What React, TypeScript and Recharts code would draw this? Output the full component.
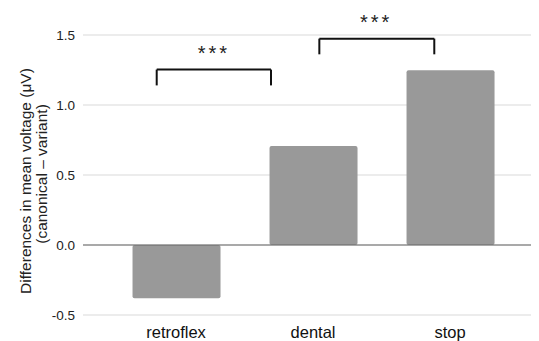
import { BarChart, Bar, XAxis, YAxis, CartesianGrid, ReferenceLine, ReferenceDot } from 'recharts';

// categories and mean differences (canonical - variant), in µV
const categories = ['retroflex', 'dental', 'stop'];
const differences = [-0.38, 0.707, 1.248];
const yTicks = [-0.5, 0, 0.5, 1, 1.5];

// significance brackets: [x start, x end, y top, y ends], x in category units
const brackets = [
  [-0.141, 0.693, 1.253, 1.14],
  [1.046, 1.885, 1.474, 1.362],
];
const starLabels = ['***', '***'];
const starPositions = [
  [0.277, 1.407],
  [1.46, 1.63],
];

const data = categories.map((name, i) => ({ x: i, name, value: differences[i] }));

const FONT = '"Liberation Sans", Arial, Helvetica, sans-serif';

function YLabel(props: any) {
  const vb = props.viewBox || { x: 0, y: 0, width: 0, height: 0 };
  const cy = vb.y + vb.height / 2 + 6;
  const x1 = 17;
  const x2 = 33;
  return (
    <g fontFamily={FONT} fontSize={15.5} fill="#222">
      <text x={x1} y={cy} transform={`rotate(-90, ${x1}, ${cy})`} textAnchor="middle" dominantBaseline="central">
        Differences in mean voltage (μV)
      </text>
      <text x={x2} y={cy - 7} transform={`rotate(-90, ${x2}, ${cy - 7})`} textAnchor="middle" dominantBaseline="central">
        (canonical – variant)
      </text>
    </g>
  );
}

function Stars(label: string) {
  return (props: any) => (
    <text
      x={props.cx}
      y={props.cy + 12}
      textAnchor="middle"
      fontFamily={FONT}
      fontSize={20}
      letterSpacing={3}
      fill="#222"
    >
      {label}
    </text>
  );
}

export default function App() {
  return (
    <div style={{ width: 531, height: 333 }}>
      <BarChart width={531} height={333} data={data} margin={{ top: 27, right: 1, bottom: 1, left: 0 }}>
        <CartesianGrid vertical={false} stroke="#d9d9d9" />
        <XAxis
          dataKey="x"
          type="number"
          domain={[-0.679, 2.642]}
          allowDataOverflow
          ticks={[0, 1, 2]}
          tickFormatter={(v: number) => categories[v] ?? ''}
          axisLine={false}
          tickLine={false}
          tickSize={6}
          tickMargin={5}
          height={25}
          tick={{ fontSize: 16.5, fill: '#111', fontFamily: FONT }}
        />
        <YAxis
          domain={[-0.5, 1.5]}
          ticks={yTicks}
          allowDataOverflow
          tickFormatter={(v: number) => v.toFixed(1)}
          axisLine={false}
          tickLine={false}
          width={75}
          tick={{ fontSize: 13.5, fill: '#222', fontFamily: FONT }}
          label={<YLabel />}
        />
        <ReferenceLine y={0} stroke="#666" strokeWidth={1.2} />
        <Bar dataKey="value" fill="#999999" barSize={88} radius={2} isAnimationActive={false} />
        {brackets.map(([x1, x2, top, end], i) => (
          <g key={`b${i}`}>
            <ReferenceLine segment={[{ x: x1, y: top }, { x: x2, y: top }]} stroke="#111" strokeWidth={2} ifOverflow="visible" />
            <ReferenceLine segment={[{ x: x1, y: top }, { x: x1, y: end }]} stroke="#111" strokeWidth={2} ifOverflow="visible" />
            <ReferenceLine segment={[{ x: x2, y: top }, { x: x2, y: end }]} stroke="#111" strokeWidth={2} ifOverflow="visible" />
          </g>
        ))}
        {starPositions.map(([x, y], i) => (
          <ReferenceDot key={`s${i}`} x={x} y={y} r={0} ifOverflow="visible" shape={Stars(starLabels[i])} />
        ))}
      </BarChart>
    </div>
  );
}
